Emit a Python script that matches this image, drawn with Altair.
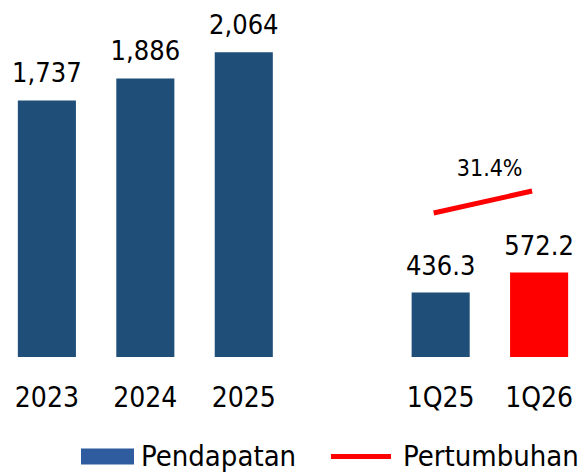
import altair as alt
import pandas as pd

# ---- data ----
categories = ["2023", "2024", "2025", "1Q25", "1Q26"]
values = [1737, 1886, 2064, 436.3, 572.2]
value_labels = ["1,737", "1,886", "2,064", "436.3", "572.2"]
bar_colors = ["#1F4E79", "#1F4E79", "#1F4E79", "#1F4E79", "#FF0000"]
x_domain = ["2023", "2024", "2025", " ", "1Q25", "1Q26"]

growth_cats = ["1Q25", "1Q26"]
growth_line_pos = [975, 1124]          # vertical position of the growth line (same units as revenue)
growth_label = "31.4%"
growth_label_pos = 1225

legend_names = ["Pendapatan", "Pertumbuhan"]
legend_colors = ["#2E5C9E", "#FF0000"]

FONT = "DejaVu Sans Condensed"

bars_df = pd.DataFrame({"cat": categories, "val": values, "lbl": value_labels, "col": bar_colors})
line_df = pd.DataFrame({"cat": growth_cats, "pos": growth_line_pos})
glabel_df = pd.DataFrame({"cat": [growth_cats[0]], "pos": [growth_label_pos], "lbl": [growth_label]})

x_enc = alt.X(
    "cat:N",
    scale=alt.Scale(domain=x_domain, paddingInner=0.41, paddingOuter=0.1),
    axis=alt.Axis(title=None, domain=False, ticks=False, tickSize=0, labelAngle=0,
                  labelFont=FONT, labelFontSize=28, labelColor="#000000",
                  labelBaseline="alphabetic", labelPadding=49, grid=False),
    sort=x_domain,
)
y_scale = alt.Scale(domain=[0, 2343], nice=False, zero=True)

bars = alt.Chart(bars_df).mark_bar().encode(
    x=x_enc,
    y=alt.Y("val:Q", scale=y_scale, axis=None),
    color=alt.Color("col:N", scale=None, legend=None),
)

bar_text = alt.Chart(bars_df).mark_text(
    baseline="alphabetic", dy=-18, font=FONT, fontSize=27, color="#000000"
).encode(
    x=alt.X("cat:N", sort=x_domain),
    y=alt.Y("val:Q", scale=y_scale),
    text="lbl:N",
)

growth_line = alt.Chart(line_df).mark_line(
    color="#FF0000", strokeWidth=5, xOffset=-7, strokeCap="butt"
).encode(
    x=alt.X("cat:N", sort=x_domain),
    y=alt.Y("pos:Q", scale=y_scale),
)

growth_text = alt.Chart(glabel_df).mark_text(
    baseline="alphabetic", dx=49, font=FONT, fontSize=23, color="#000000"
).encode(
    x=alt.X("cat:N", sort=x_domain),
    y=alt.Y("pos:Q", scale=y_scale),
    text="lbl:N",
)

rect_path = "M-1,-0.3H1V0.3H-1Z"
line_path = "M-1.453,-0.094H0.811V0.094H-1.453Z"


def legend_layer(name, path, color, lx):
    df = pd.DataFrame({"cat": [categories[0]], "val": [0], "s": [name]})
    return alt.Chart(df).mark_point(opacity=0, filled=True, size=2809, color=color).encode(
        x=alt.X("cat:N", sort=x_domain),
        y=alt.Y("val:Q", scale=y_scale),
        shape=alt.Shape(
            "s:N",
            scale=alt.Scale(domain=[name], range=[path]),
            legend=alt.Legend(
                orient="none", legendX=lx, legendY=419, title=None, direction="horizontal",
                symbolSize=2809, symbolOpacity=1, symbolFillColor=color, symbolStrokeWidth=0,
                labelFont=FONT, labelFontSize=29, labelColor="#000000", labelOffset=7,
                labelLimit=400,
            ),
        ),
    )


leg1 = legend_layer(legend_names[0], rect_path, legend_colors[0], 73)
leg2 = legend_layer(legend_names[1], line_path, legend_colors[1], 335)

chart = (
    alt.layer(bars, bar_text, growth_line, growth_text, leg1, leg2)
    .resolve_scale(shape="independent")
    .properties(width=570, height=346, padding={"left": 0, "top": 3, "right": 0, "bottom": 0},
                background="#FFFFFF")
    .configure_view(stroke=None)
)

chart.save("out.html", embed_options={"renderer": "svg", "actions": False})
